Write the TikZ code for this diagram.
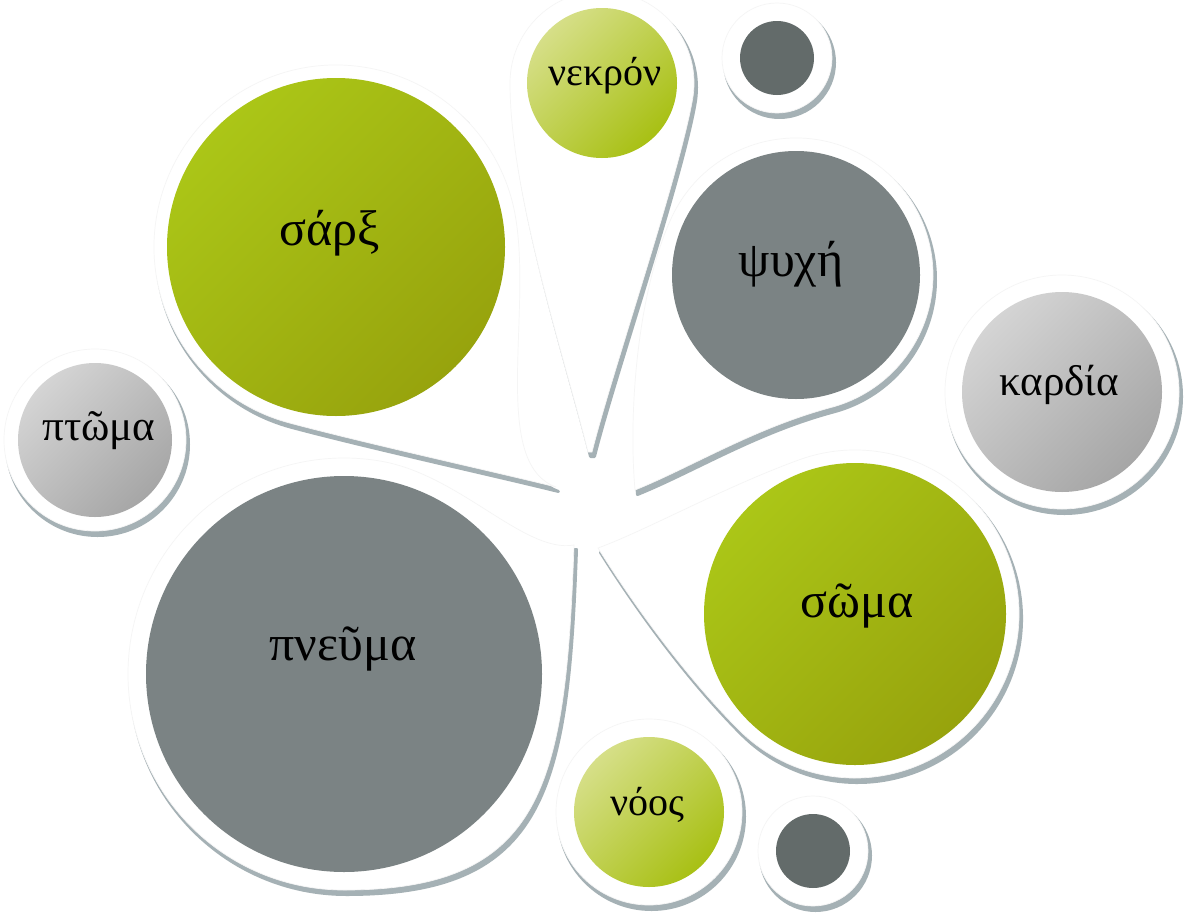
\documentclass[tikz,border=0pt]{standalone}
\usepackage{fontspec}
\setmainfont{Liberation Serif}
\definecolor{shadowc}{HTML}{A5B1B5}
\definecolor{grnA}{HTML}{ABC617}
\definecolor{grnB}{HTML}{97A30D}
\definecolor{lgnA}{HTML}{D6DF88}
\definecolor{lgnB}{HTML}{A8C014}
\definecolor{gryc}{HTML}{7B8384}
\definecolor{dkc}{HTML}{636B6A}
\definecolor{lgrA}{HTML}{D4D4D4}
\definecolor{lgrB}{HTML}{A6A6A6}
\def\pPneuma{(574,545) .. controls +(92:240) and +(0:200) .. (344,890) arc[start angle=90,end angle=280,radius=216] .. controls +(10:80) and +(170:50) .. (574,545) -- cycle}
\def\pSarx{(556,487) .. controls +(194:60) and +(15:80) .. (288.9,422.8) arc[start angle=105,end angle=350,radius=182] .. controls +(80:100) and +(200:70) .. (556,487) -- cycle}
\def\pPsyche{(635,490) .. controls +(265:80) and +(115:80) .. (671.8,217.1) arc[start angle=205,end angle=435,radius=137] .. controls +(165:80) and +(338:60) .. (635,490) -- cycle}
\def\pSoma{(598,548) .. controls +(340:50) and +(160:80) .. (798.9,459.9) arc[start angle=250,end angle=495,radius=164] .. controls +(225:80) and +(58:60) .. (598,548) -- cycle}
\def\pNekron{(588,452) .. controls +(256:100) and +(90:110) .. (510,83) arc[start angle=180,end angle=370,radius=92] .. controls +(100:80) and +(284:80) .. (592,452) -- cycle}
\begin{document}
\begin{tikzpicture}[x=1pt,y=-1pt,
  shd/.style={fill=shadowc, draw=shadowc, line width=3pt, line join=round, shift={(2.5,4.5)}},
  wht/.style={fill=white, draw=black!4, line width=0.7pt},
  disc/.style={circle, inner sep=0pt, draw=none, minimum size=#1},
  greenfill/.style={top color=grnA, bottom color=grnB, shading angle=45},
  lgreenfill/.style={top color=lgnA, bottom color=lgnB, shading angle=45},
  lgrayfill/.style={top color=lgrA, bottom color=lgrB, shading angle=45},
  grayfill/.style={fill=gryc},
  darkfill/.style={fill=dkc},
  biglbl/.style={anchor=base, font=\fontsize{50}{60}\selectfont},
  smalllbl/.style={anchor=base, font=\fontsize{40}{48}\selectfont},
  midlbl/.style={anchor=base, font=\fontsize{43}{50}\selectfont}]
\useasboundingbox (0,0) rectangle (1191,918);
\fill[white] (0,0) rectangle (1191,918);
% pneuma
\path[shd] \pPneuma;
\path[wht] \pPneuma;
\node[disc=396pt, grayfill] (pneuma) at (344,674) {};
\node[biglbl] (pneumaT) at (343,660) {πνεῦμα};
% sarx
\begin{scope}
  \clip (0,0) -- (470,0) -- (470,300) -- (503,380) -- (512,450) -- (540,480) -- (575,487) -- (575,918) -- (0,918) -- cycle;
  \path[shd] \pSarx;
\end{scope}
\path[wht] \pSarx;
\node[disc=338pt, greenfill] (sarx) at (336,247) {};
\node[biglbl] (sarxT) at (330,245) {σάρξ};
% psyche
\path[shd] \pPsyche;
\path[wht] \pPsyche;
\node[disc=248pt, grayfill] (psyche) at (796,275) {};
\node[biglbl] (psycheT) at (791,276) {ψυχή};
% soma
\path[shd] \pSoma;
\path[wht] \pSoma;
\node[disc=302pt, greenfill] (soma) at (855,614) {};
\node[biglbl] (somaT) at (857,617) {σῶμα};
% nekron
\begin{scope}
  \clip (0,165) -- (545,165) -- (545,0) -- (1191,0) -- (1191,918) -- (0,918) -- cycle;
  \path[shd] \pNekron;
\end{scope}
\path[wht] \pNekron;
\node[disc=150pt, lgreenfill] (nekron) at (602,83) {};
\node[smalllbl] (nekronT) at (605,85) {νεκρόν};
% noos
\path[shd] (649,812) circle[radius=93];
\path[wht] (649,812) circle[radius=93];
\node[disc=150pt, lgreenfill] (noos) at (649,812) {};
\node[smalllbl] (noosT) at (647,815) {νόος};
% ptoma
\path[shd] (95,440) circle[radius=91];
\path[wht] (95,440) circle[radius=91];
\node[disc=154pt, lgrayfill] (ptoma) at (95,440) {};
\node[midlbl] (ptomaT) at (99,440) {πτῶμα};
% kardia
\path[shd] (1062,392) circle[radius=117];
\path[wht] (1062,392) circle[radius=117];
\node[disc=200pt, lgrayfill] (kardia) at (1062,392) {};
\node[midlbl] (kardiaT) at (1059,395) {καρδία};
% dark dots
\path[shd] (777,58) circle[radius=55];
\path[wht] (777,58) circle[radius=55];
\node[disc=74pt, darkfill] (dotA) at (777,58) {};
\path[shd] (813,851) circle[radius=55];
\path[wht] (813,851) circle[radius=55];
\node[disc=74pt, darkfill] (dotB) at (813,851) {};
\end{tikzpicture}
\end{document}
